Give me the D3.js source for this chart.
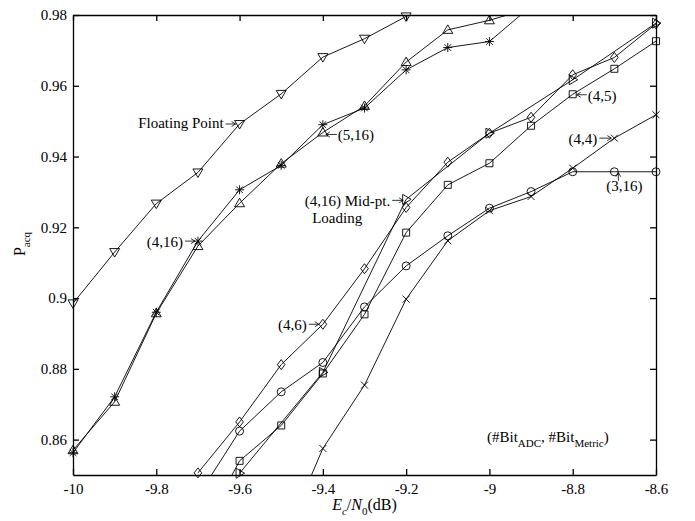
<!DOCTYPE html>
<html>
<head>
<meta charset="utf-8">
<script src="https://cdn.jsdelivr.net/npm/d3@7"></script>
<style>
  body { margin: 0; background: #fff; }
  text { font-family: "Liberation Serif", "Times New Roman", serif; fill: #000; }
  .axis path, .axis line { stroke: #000; stroke-width: 1.3; }
  .axis text { font-size: 15px; font-family: "Liberation Serif", serif; }
  .series { fill: none; stroke: #000; stroke-width: 0.9; }
  .mark { fill: none; stroke: #000; stroke-width: 0.9; }
  .ann { font-size: 15px; }
  .arrow { stroke: #000; stroke-width: 0.8; fill: none; }
</style>
</head>
<body>
<div id="chart"></div>
<script>
//acquisition probability vs Ec/N0 - d3 line plot

// tick labels
var xTicks = [-10, -9.8, -9.6, -9.4, -9.2, -9, -8.8, -8.6];
var yTicks = [0.86, 0.88, 0.9, 0.92, 0.94, 0.96, 0.98];

// series data (Ec/N0 in dB, P_acq)
var xFloat = [-10, -9.9, -9.8, -9.7, -9.6, -9.5, -9.4, -9.3, -9.2];
var pFloat = [0.8985, 0.913, 0.9267, 0.9355, 0.9492, 0.9577, 0.9681, 0.9733, 0.9796];

var x516 = [-10, -9.9, -9.8, -9.7, -9.6, -9.5, -9.4, -9.3, -9.2, -9.1, -9, -8.9];
var p516 = [0.857, 0.8707, 0.8957, 0.9147, 0.9268, 0.938, 0.9468, 0.9543, 0.9667, 0.9758, 0.9785, 0.982];

var x416 = [-10, -9.9, -9.8, -9.7, -9.6, -9.5, -9.4, -9.3, -9.2, -9.1, -9, -8.9];
var p416 = [0.8563, 0.8721, 0.896, 0.9161, 0.9306, 0.9375, 0.949, 0.9537, 0.9645, 0.9708, 0.9725, 0.9825];

var x46 = [-9.7, -9.6, -9.5, -9.4, -9.3, -9.2, -9.1, -9, -8.9, -8.8, -8.7, -8.6];
var p46 = [0.8506, 0.865, 0.8812, 0.8926, 0.9083, 0.9256, 0.9384, 0.9466, 0.9511, 0.9631, 0.968, 0.9775];

var xMid = [-9.6, -9.4, -9.2, -9, -8.8, -8.6];
var pMid = [0.8505, 0.879, 0.9279, 0.9466, 0.9617, 0.9777];

var x45 = [-9.7, -9.6, -9.5, -9.4, -9.3, -9.2, -9.1, -9, -8.9, -8.8, -8.7, -8.6];
var p45 = [0.832, 0.854, 0.864, 0.8787, 0.8954, 0.9185, 0.932, 0.9381, 0.9487, 0.9576, 0.9648, 0.9726];

var x316 = [-9.7, -9.6, -9.5, -9.4, -9.3, -9.2, -9.1, -9, -8.9, -8.8, -8.7, -8.6];
var p316 = [0.844, 0.8624, 0.8735, 0.8818, 0.8975, 0.9091, 0.9176, 0.9254, 0.9301, 0.9357, 0.9357, 0.9357];

var x44 = [-9.5, -9.4, -9.3, -9.2, -9.1, -9, -8.9, -8.8, -8.7, -8.6];
var p44 = [0.830, 0.8575, 0.8754, 0.8997, 0.9162, 0.9247, 0.9287, 0.9367, 0.9452, 0.9518];

var width = 695, height = 521;
var plotLeft = 73, plotRight = 656, plotTop = 15, plotBottom = 475;

var x = d3.scaleLinear().domain([-10, -8.6]).range([plotLeft, plotRight]);
var y = d3.scaleLinear().domain([0.85, 0.98]).range([plotBottom, plotTop]);

// marker shapes, centred on the point
var markers = {
  down: "M-5,-3.5L5,-3.5L0,5Z",
  up: "M-5,3.5L5,3.5L0,-5Z",
  right: "M-3.5,-5L-3.5,5L5,0Z",
  square: "M-3.5,-3.5h7v7h-7Z",
  diamond: "M0,-5L3.8,0L0,5L-3.8,0Z",
  circle: "M4,0A4,4 0 1,1 -4,0A4,4 0 1,1 4,0Z",
  cross: "M-3.5,-3.5L3.5,3.5M-3.5,3.5L3.5,-3.5",
  star: "M-4.5,0H4.5M0,-4.5V4.5M-3.3,-3.3L3.3,3.3M-3.3,3.3L3.3,-3.3"
};

var series = [
  {name: "Floating Point", xs: xFloat, ps: pFloat, marker: "down"},
  {name: "(5,16)", xs: x516, ps: p516, marker: "up"},
  {name: "(4,16)", xs: x416, ps: p416, marker: "star"},
  {name: "(4,6)", xs: x46, ps: p46, marker: "diamond"},
  {name: "(4,16) Mid-pt.", xs: xMid, ps: pMid, marker: "right"},
  {name: "(4,5)", xs: x45, ps: p45, marker: "square"},
  {name: "(3,16)", xs: x316, ps: p316, marker: "circle"},
  {name: "(4,4)", xs: x44, ps: p44, marker: "cross"}
];

var svg = d3.select("#chart")
  .append("svg")
  .attr("width", width)
  .attr("height", height);

svg.append("rect").attr("width", width).attr("height", height).attr("fill", "#fff");

svg.append("clipPath").attr("id", "plotclip")
  .append("rect")
  .attr("x", plotLeft).attr("y", plotTop)
  .attr("width", plotRight - plotLeft).attr("height", plotBottom - plotTop);

var fmt = function(d) { return String(+d.toFixed(2)); };

// axes with inward ticks
svg.append("g").attr("class", "axis")
  .attr("transform", "translate(0," + plotBottom + ")")
  .call(d3.axisBottom(x).tickValues(xTicks).tickSizeInner(-6).tickSizeOuter(0).tickPadding(8).tickFormat(fmt));
svg.append("g").attr("class", "axis")
  .attr("transform", "translate(0," + plotTop + ")")
  .call(d3.axisTop(x).tickValues(xTicks).tickSizeInner(-6).tickSizeOuter(0).tickFormat(""));
svg.append("g").attr("class", "axis")
  .attr("transform", "translate(" + plotLeft + ",0)")
  .call(d3.axisLeft(y).tickValues(yTicks).tickSizeInner(-6).tickSizeOuter(0).tickPadding(6).tickFormat(fmt));
svg.append("g").attr("class", "axis")
  .attr("transform", "translate(" + plotRight + ",0)")
  .call(d3.axisRight(y).tickValues(yTicks).tickSizeInner(-6).tickSizeOuter(0).tickFormat(""));

// lines
var line = d3.line()
  .x(function(d) { return x(d[0]); })
  .y(function(d) { return y(d[1]); });

var plot = svg.append("g");

series.forEach(function(s) {
  var pts = s.xs.map(function(v, i) { return [v, s.ps[i]]; });
  plot.append("path")
    .attr("class", "series")
    .attr("clip-path", "url(#plotclip)")
    .attr("d", line(pts));
  plot.selectAll(null)
    .data(pts.filter(function(d) { return d[1] >= 0.85 && d[1] <= 0.98; }))
    .enter()
    .append("path")
    .attr("class", "mark")
    .attr("transform", function(d) { return "translate(" + x(d[0]) + "," + y(d[1]) + ")"; })
    .attr("d", markers[s.marker]);
});

// annotations with arrows pointing at a data point
function arrowH(tx, ty, from, to) {
  var dir = to > from ? 1 : -1;
  svg.append("path").attr("class", "arrow")
    .attr("d", "M" + from + "," + ty + "H" + to +
      "M" + (to - dir * 4) + "," + (ty - 2.5) + "L" + to + "," + ty + "L" + (to - dir * 4) + "," + (ty + 2.5));
}

function label(txt, px, py, anchor) {
  return svg.append("text").attr("class", "ann")
    .attr("x", px).attr("y", py).attr("dy", "0.35em")
    .attr("text-anchor", anchor || "start")
    .text(txt);
}

// Floating Point
var fx = x(-9.6), fy = y(0.9492);
label("Floating Point", fx - 16, fy - 1, "end");
arrowH(fx, fy, fx - 14, fx - 4);

// (5,16)
var ax = x(-9.4), ay = y(0.9468);
label("(5,16)", ax + 15, ay + 2.5);
arrowH(ax, ay + 2, ax + 14, ax + 3);

// (4,16)
var bx = x(-9.7), by = y(0.9161);
label("(4,16)", bx - 15, by + 0.5, "end");
arrowH(bx, by, bx - 13, bx - 3);

// (4,16) Mid-pt. Loading
var mx = x(-9.2), my = y(0.9279);
label("(4,16) Mid-pt.", mx - 16, my + 1.5, "end");
label("Loading", mx - 94, my + 18);
arrowH(mx, my + 1, mx - 14, mx - 3);

// (4,6)
var dx = x(-9.4), dy = y(0.8926);
label("(4,6)", dx - 16, dy + 0.5, "end");
arrowH(dx, dy, dx - 14, dx - 4);

// (4,5)
var sx = x(-8.8), sy = y(0.9576);
label("(4,5)", sx + 15, sy + 1);
arrowH(sx, sy + 0.5, sx + 14, sx + 4);

// (4,4)
var cx = x(-8.7), cy = y(0.9452);
label("(4,4)", cx - 17, cy + 0.5, "end");
arrowH(cx, cy, cx - 15, cx - 3);

// (3,16) with upward arrow
var ox = x(-8.7), oy = y(0.9357);
label("(3,16)", ox + 10, oy + 14, "middle");
svg.append("path").attr("class", "arrow")
  .attr("d", "M" + (ox + 4) + "," + (oy + 9) + "V" + (oy + 1) +
    "M" + (ox + 1.5) + "," + (oy + 5) + "L" + (ox + 4) + "," + (oy + 1) + "L" + (ox + 6.5) + "," + (oy + 5));

// legend note
var note = svg.append("text").attr("class", "ann")
  .attr("x", 487).attr("y", 442);
note.append("tspan").text("(#Bit");
note.append("tspan").attr("dy", 5).style("font-size", "11px").text("ADC");
note.append("tspan").attr("dy", -5).text(", #Bit");
note.append("tspan").attr("dy", 5).style("font-size", "11px").text("Metric");
note.append("tspan").attr("dy", -5).text(")");

// axis titles
var yl = svg.append("text")
  .attr("transform", "translate(25,244) rotate(-90)")
  .attr("text-anchor", "middle")
  .style("font-size", "16px");
yl.append("tspan").text("P");
yl.append("tspan").attr("dy", 5).style("font-size", "11px").text("acq");

var xl = svg.append("text")
  .attr("x", (plotLeft + plotRight) / 2).attr("y", 510)
  .attr("text-anchor", "middle")
  .style("font-size", "16px");
xl.append("tspan").style("font-style", "italic").text("E");
xl.append("tspan").attr("dy", 5).style("font-size", "11px").style("font-style", "italic").text("c");
xl.append("tspan").attr("dy", -5).text("/");
xl.append("tspan").style("font-style", "italic").text("N");
xl.append("tspan").attr("dy", 5).style("font-size", "11px").text("0");
xl.append("tspan").attr("dy", -5).text("(dB)");
</script>
</body>
</html>
